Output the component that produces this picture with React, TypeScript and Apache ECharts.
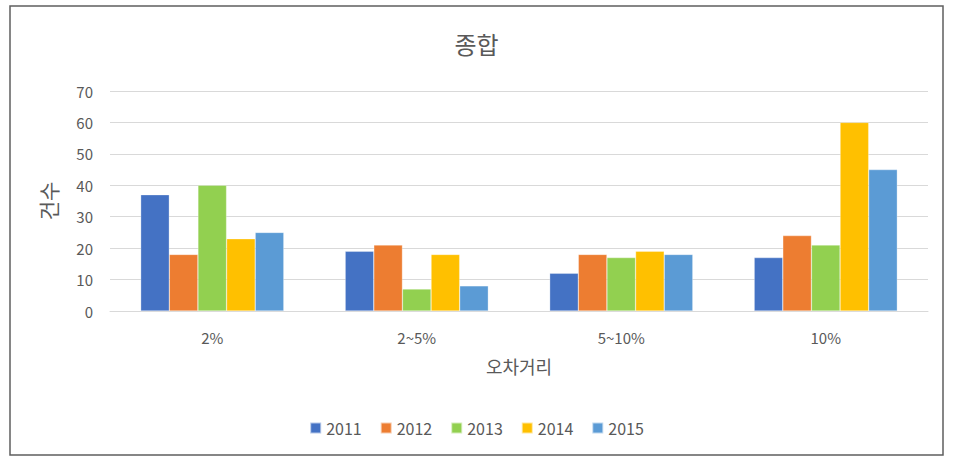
import React, { useEffect, useRef } from "react";
import * as echarts from "echarts";

const categories = ["2%", "2~5%", "5~10%", "10%"];
const seriesNames = ["2011", "2012", "2013", "2014", "2015"];
const v2011 = [37, 19, 12, 17];
const v2012 = [18, 21, 18, 24];
const v2013 = [40, 7, 17, 21];
const v2014 = [23, 18, 19, 60];
const v2015 = [25, 8, 18, 45];
const colors = ["#4472C4", "#ED7D31", "#92D050", "#FFC000", "#5B9BD5"];
const yTicks = [0, 10, 20, 30, 40, 50, 60, 70];

const FONT = "'Noto Sans CJK KR', 'Noto Sans', sans-serif";

export default function App() {
  const ref = useRef<HTMLDivElement>(null);
  useEffect(() => {
    if (!ref.current) return;
    const chart = echarts.init(ref.current, undefined, { renderer: "svg" });
    const values = [v2011, v2012, v2013, v2014, v2015];
    chart.setOption({
      animation: false,
      textStyle: { fontFamily: FONT },
      graphic: [
        {
          type: "rect",
          shape: { x: 10, y: 6, width: 933, height: 449 },
          style: { fill: "none", stroke: "#5f5f5f", lineWidth: 1.5 },
          silent: true,
        },
      ],
      title: {
        text: "종합",
        left: "center",
        top: 26,
        textStyle: { fontFamily: FONT, fontSize: 24, fontWeight: "normal", color: "#595959" },
      },
      legend: {
        bottom: 24,
        left: "center",
        itemWidth: 11,
        itemHeight: 11,
        itemGap: 18,
        icon: "rect",
        textStyle: { fontFamily: FONT, fontSize: 16, color: "#595959" },
        data: seriesNames,
      },
      grid: { left: 110, right: 25, top: 91, bottom: 154, containLabel: false },
      xAxis: {
        type: "category",
        data: categories,
        name: "오차거리",
        nameLocation: "middle",
        nameGap: 46,
        nameTextStyle: { fontFamily: FONT, fontSize: 18, color: "#595959" },
        axisLine: { show: true, lineStyle: { color: "#d9d9d9", width: 1 } },
        axisTick: { show: false },
        axisLabel: { fontFamily: FONT, fontSize: 15, color: "#595959", margin: 19 },
      },
      yAxis: {
        type: "value",
        min: yTicks[0],
        max: yTicks[yTicks.length - 1],
        interval: 10,
        name: "건수",
        nameLocation: "middle",
        nameGap: 52,
        nameRotate: 90,
        nameTextStyle: { fontFamily: FONT, fontSize: 21, color: "#595959" },
        axisLine: { show: false },
        axisTick: { show: false },
        splitLine: { lineStyle: { color: "#d9d9d9", width: 1 } },
        axisLabel: { fontFamily: FONT, fontSize: 15, color: "#595959", margin: 17 },
      },
      series: seriesNames.map((name, i) => ({
        name,
        type: "bar",
        data: values[i],
        barGap: "0%",
        barCategoryGap: "30%",
        itemStyle: { color: colors[i], borderColor: "rgba(255,255,255,0.6)", borderWidth: 0.5 },
      })),
    });
    return () => chart.dispose();
  }, []);
  return (
    <div
      ref={ref}
      style={{ position: "fixed", left: 0, top: 0, width: 953, height: 465, background: "#fff" }}
    />
  );
}
